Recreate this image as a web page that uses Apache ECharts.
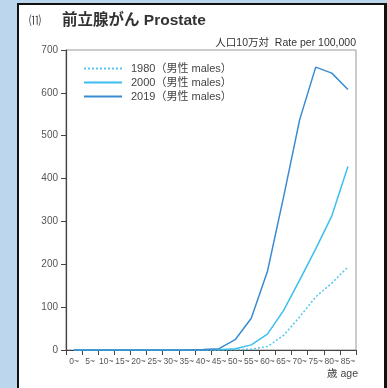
<!DOCTYPE html>
<html>
<head>
<meta charset="utf-8">
<script src="https://cdn.jsdelivr.net/npm/echarts@6/dist/echarts.min.js"></script>
<style>
html,body{margin:0;padding:0;background:#fff;}
#c{width:387px;height:388px;}
</style>
</head>
<body>
<div id="c"></div>
<script>
const categories = ['0~','5~','10~','15~','20~','25~','30~','35~','40~','45~','50~','55~','60~','65~','70~','75~','80~','85~'];
const seriesNames = ['1980（男性 males）','2000（男性 males）','2019（男性 males）'];
const values1980 = [0,0,0,0,0,0,0,0,0,0,0.5,2,8,34,77,124,156,194];
const values2000 = [0,0,0,0,0,0,0,0,0,0.5,3,12,37,92,163,236,313,428];
const values2019 = [0,0,0,0,0,0,0,0,1,3,24,74,183,356,537,660,646,608];
const yTicks = [0,100,200,300,400,500,600,700];

const FONT = '"Liberation Sans","Noto Sans CJK JP",sans-serif';
const chart = echarts.init(document.getElementById('c'), null, {renderer:'canvas'});
chart.setOption({
  animation:false,
  backgroundColor:'#fff',
  textStyle:{fontFamily:FONT},
  graphic:[
    {type:'rect', shape:{x:0,y:0,width:18,height:388}, style:{fill:'#bcd6ee'}, z:-10},
    {type:'rect', shape:{x:0,y:0,width:387,height:3}, style:{fill:'#bcd6ee'}, z:-10},
    {type:'rect', shape:{x:17,y:3,width:2,height:385}, style:{fill:'#111'}, z:-9},
    {type:'rect', shape:{x:17,y:3,width:370,height:2}, style:{fill:'#111'}, z:-9},
    {type:'rect', shape:{x:384,y:3,width:3,height:385}, style:{fill:'#111'}, z:-9},
    {type:'text', left:29, top:16, style:{text:'⑾', fontSize:12, fill:'#333', fontFamily:FONT}},
    {type:'text', left:62, top:13, style:{text:'前立腺がん Prostate', fontSize:15.5, fontWeight:'bold', fill:'#333', fontFamily:FONT}},
    {type:'text', right:31, top:38, style:{text:'人口10万対  Rate per 100,000', fontSize:10.5, fill:'#333', fontFamily:FONT}},
    {type:'text', right:29, top:369, style:{text:'歳 age', fontSize:10.5, fill:'#444', fontFamily:FONT}},
    {type:'rect', shape:{x:66,y:50,width:290,height:300}, style:{fill:'none', stroke:'#999', lineWidth:1}, z:-1}
  ],
  legend:{
    orient:'vertical', left:78, top:58, itemWidth:38, itemHeight:10, itemGap:3,
    itemStyle:{opacity:0},
    textStyle:{fontSize:11, color:'#444', fontFamily:FONT, padding:[0,0,0,4]},
    data:seriesNames
  },
  grid:{left:66, right:31, top:50, bottom:38, containLabel:false},
  xAxis:{
    type:'category', data:categories, boundaryGap:true,
    axisLine:{lineStyle:{color:'#444', width:1.2}},
    axisTick:{show:true, length:5, lineStyle:{color:'#444'}, alignWithLabel:false},
    axisLabel:{fontSize:8.5, color:'#555', margin:7, interval:0, fontFamily:FONT},
    splitLine:{show:false}
  },
  yAxis:{
    type:'value', min:0, max:700, interval:100,
    axisLine:{show:true, lineStyle:{color:'#444', width:1.2}},
    axisTick:{show:true, inside:false, length:5, lineStyle:{color:'#444'}},
    axisLabel:{fontSize:10, color:'#555', margin:8, fontFamily:FONT,
      formatter:function(v){return yTicks.indexOf(v)>=0?String(v):'';}},
    splitLine:{show:false}
  },
  series:[
    {name:seriesNames[0], type:'line', data:values1980, symbol:'none', smooth:false,
      lineStyle:{color:'#55c6ef', width:1.5, type:[2,2]}, itemStyle:{color:'#55c6ef'}},
    {name:seriesNames[1], type:'line', data:values2000, symbol:'none',
      lineStyle:{color:'#3cbeee', width:1.5}, itemStyle:{color:'#3cbeee'}},
    {name:seriesNames[2], type:'line', data:values2019, symbol:'none',
      lineStyle:{color:'#3a8cd2', width:1.5}, itemStyle:{color:'#3a8cd2'}}
  ]
});
</script>
</body>
</html>
